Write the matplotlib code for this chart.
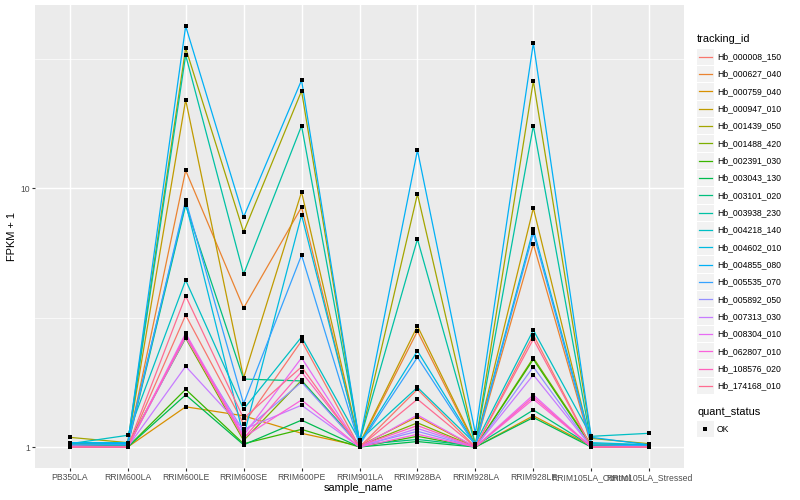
import numpy as np
import matplotlib
matplotlib.use("Agg")
import matplotlib.pyplot as plt
from matplotlib.ticker import FixedLocator, NullFormatter
from matplotlib.patches import Rectangle
from matplotlib.lines import Line2D

plt.rcParams["font.family"] = ["Liberation Sans", "DejaVu Sans"]

# Data (FPKM + 1), one list per sample, ordered like tracking_ids
tracking_ids = [
    "Hb_000008_150", "Hb_000627_040", "Hb_000759_040", "Hb_000947_010",
    "Hb_001439_050", "Hb_001488_420", "Hb_002391_030", "Hb_003043_130",
    "Hb_003101_020", "Hb_003938_230", "Hb_004218_140", "Hb_004602_010",
    "Hb_004855_080", "Hb_005535_070", "Hb_005892_050", "Hb_007313_030",
    "Hb_008304_010", "Hb_062807_010", "Hb_108576_020", "Hb_174168_010",
]
samples = [
    "PB350LA", "RRIM600LA", "RRIM600LE", "RRIM600SE", "RRIM600PE", "RRIM901LA",
    "RRIM928BA", "RRIM928LA", "RRIM928LE", "RRIM105LA_Control", "RRIM105LA_Stressed",
]
pb350la = [1.00, 1.01, 1.02, 1.03, 1.09, 1.02, 1.01, 1.00, 1.01, 1.03,
           1.03, 1.04, 1.04, 1.02, 1.00, 1.01, 1.00, 1.00, 1.00, 1.00]
rrim600la = [1.00, 1.01, 1.00, 1.03, 1.04, 1.02, 1.00, 1.00, 1.01, 1.02,
             1.11, 1.04, 1.03, 1.02, 1.00, 1.00, 1.00, 1.00, 1.00, 1.00]
rrim600le = [3.23, 11.7, 1.43, 21.9, 34.7, 2.63, 1.67, 1.59, 8.59, 32.6,
             4.41, 8.75, 42.2, 8.98, 2.65, 2.05, 2.75, 2.71, 2.68, 3.83]
rrim600se = [1.23, 3.44, 1.32, 1.85, 6.76, 1.06, 1.03, 1.02, 1.83, 4.65,
             1.40, 1.10, 7.73, 1.47, 1.15, 1.17, 1.11, 1.09, 1.08, 1.29]
rrim600pe = [2.57, 8.44, 1.13, 9.66, 23.7, 1.81, 1.17, 1.27, 1.80, 17.4,
             2.66, 7.87, 26.1, 5.51, 1.78, 1.45, 2.21, 1.52, 1.95, 2.04]
rrim901la = [1.00, 1.02, 1.01, 1.03, 1.04, 1.01, 1.00, 1.00, 1.02, 1.05,
             1.06, 1.03, 1.05, 1.02, 1.01, 1.00, 1.00, 1.00, 1.01, 1.00]
rrim928ba = [1.67, 2.80, 1.31, 2.93, 9.48, 1.24, 1.10, 1.05, 1.07, 6.35,
             1.70, 2.35, 14.0, 2.22, 1.15, 1.18, 1.33, 1.12, 1.21, 1.53]
rrim928la = [1.00, 1.01, 1.00, 1.02, 1.02, 1.00, 1.00, 1.00, 1.01, 1.02,
             1.03, 1.02, 1.13, 1.01, 1.00, 1.00, 1.00, 1.00, 1.00, 1.00]
rrim928le = [2.71, 6.08, 1.32, 8.37, 25.9, 2.21, 2.18, 1.30, 1.39, 17.4,
             2.83, 6.94, 36.3, 6.70, 2.04, 1.90, 1.59, 1.53, 1.56, 2.61]
rrim105la_control = [1.00, 1.01, 1.01, 1.02, 1.08, 1.02, 1.01, 1.00, 1.01, 1.03,
                     1.10, 1.04, 1.09, 1.02, 1.00, 1.00, 1.00, 1.00, 1.00, 1.00]
rrim105la_stressed = [1.00, 1.01, 1.01, 1.02, 1.03, 1.02, 1.01, 1.00, 1.01, 1.02,
                      1.13, 1.02, 1.02, 1.01, 1.00, 1.00, 1.00, 1.00, 1.00, 1.00]

values = np.array([
    pb350la, rrim600la, rrim600le, rrim600se, rrim600pe, rrim901la,
    rrim928ba, rrim928la, rrim928le, rrim105la_control, rrim105la_stressed,
])

colors = [
    "#F8766D", "#EA8331", "#D89000", "#C09B00", "#A3A500", "#7CAE00", "#39B600",
    "#00BB4E", "#00BF7D", "#00C1A3", "#00BFC4", "#00BAE0", "#00B0F6", "#35A2FF",
    "#9590FF", "#C77CFF", "#E76BF3", "#FA62DB", "#FF62BC", "#FF6C91",
]

W, H = 800, 500
fig = plt.figure(figsize=(8, 5), dpi=100)
px, py0, px1, py1 = 35, 5, 684, 468
ax = fig.add_axes([px / W, 1 - py1 / H, (px1 - px) / W, (py1 - py0) / H])
ax.set_facecolor("#EBEBEB")

x = np.arange(len(samples))
for i, tid in enumerate(tracking_ids):
    ax.plot(x, values[:, i], color=colors[i], lw=0.9, zorder=2)
for i in range(len(tracking_ids)):
    ax.plot(x, values[:, i], "s", color="black", ms=2.6, mew=0, zorder=3)

ax.set_yscale("log")
ax.set_ylim(0.83, 50.9)
ax.set_xlim(-0.6, len(samples) - 0.4)
ax.yaxis.set_major_locator(FixedLocator([1, 10]))
ax.set_yticklabels(["1", "10"])
ax.yaxis.set_minor_locator(FixedLocator([10 ** 0.5, 10 ** 1.5]))
ax.yaxis.set_minor_formatter(NullFormatter())
ax.set_xticks(x)
ax.set_xticklabels(samples)

ax.grid(which="major", color="white", lw=1.05)
ax.grid(which="minor", axis="y", color="white", lw=0.5)
ax.set_axisbelow(True)
for s in ax.spines.values():
    s.set_visible(False)
ax.tick_params(which="major", length=2.0, width=0.8, color="#333333",
               labelsize=6.2, labelcolor="#4D4D4D", pad=1.5)
ax.tick_params(which="minor", length=0)

fig.text(358.5 / W, 1 - 488 / H, "sample_name", fontsize=7.9,
         ha="center", va="center")
fig.text(12 / W, 1 - 236.5 / H, "FPKM + 1", fontsize=7.9, rotation=90,
         ha="center", va="center")

# legend: tracking_id
lx0, lw_, kh = 697, 16.5, 17.33
fig.text(lx0 / W, 1 - 39 / H, "tracking_id", fontsize=7.9, ha="left", va="center")
for j, tid in enumerate(tracking_ids):
    yc = 56.7 + j * kh
    fig.patches.append(Rectangle((lx0 / W, 1 - (yc + kh / 2 - 0.5) / H),
                                 lw_ / W, (kh - 1) / H, transform=fig.transFigure,
                                 facecolor="#F2F2F2", edgecolor="none"))
    fig.lines.append(Line2D([(lx0 + 1.5) / W, (lx0 + lw_ - 1.5) / W],
                            [1 - yc / H, 1 - yc / H], transform=fig.transFigure,
                            color=colors[j], lw=0.9))
    fig.text((lx0 + 20) / W, 1 - yc / H, tid, fontsize=6.2, ha="left", va="center")

# legend: quant_status
fig.text(lx0 / W, 1 - 412 / H, "quant_status", fontsize=7.9, ha="left", va="center")
fig.patches.append(Rectangle((lx0 / W, 1 - (429 + kh / 2 - 0.5) / H), lw_ / W,
                             (kh - 1) / H, transform=fig.transFigure,
                             facecolor="#F2F2F2", edgecolor="none"))
fig.lines.append(Line2D([(lx0 + lw_ / 2) / W], [1 - 429 / H], marker="s",
                        color="black", ms=2.6, mew=0, transform=fig.transFigure))
fig.text((lx0 + 20) / W, 1 - 429 / H, "OK", fontsize=6.2, ha="left", va="center")

fig.savefig("out.png", dpi=100)
